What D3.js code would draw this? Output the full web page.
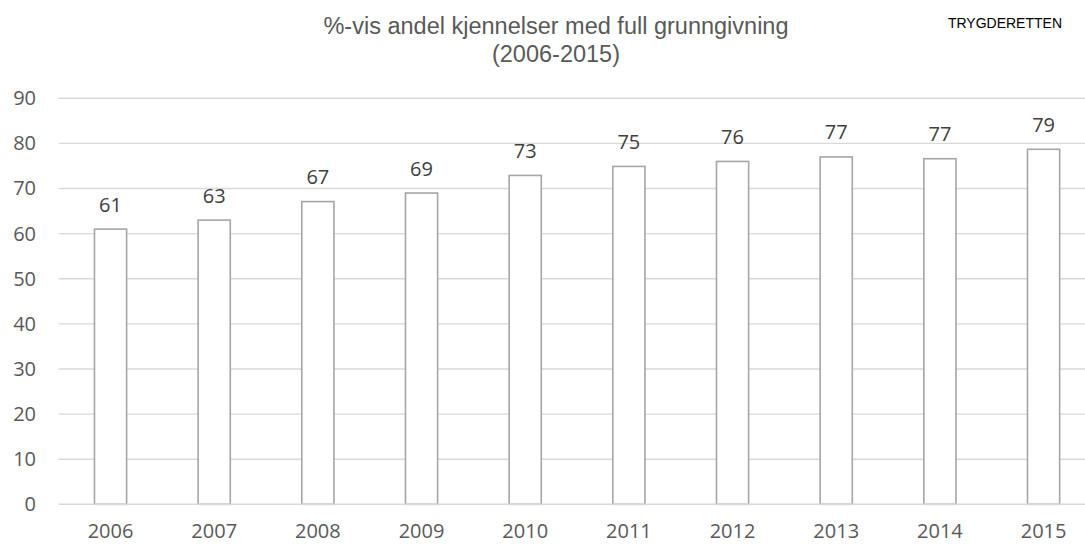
<!DOCTYPE html>
<html>
<head>
<meta charset="utf-8">
<script src="https://cdn.jsdelivr.net/npm/d3@7/dist/d3.min.js"></script>
<style>
  body { margin: 0; background: #fff; }
  svg { display: block; }
</style>
</head>
<body>
<div id="chart"></div>
<script>
// chart data
var years = ["2006", "2007", "2008", "2009", "2010", "2011", "2012", "2013", "2014", "2015"];
var shares = [61, 63, 67.1, 69, 72.9, 74.9, 76, 77, 76.6, 78.7];
var labels = ["61", "63", "67", "69", "73", "75", "76", "77", "77", "79"];
var yTicks = [0, 10, 20, 30, 40, 50, 60, 70, 80, 90];
var titleLines = ["%-vis andel kjennelser med full grunngivning", "(2006-2015)"];
var sourceText = "TRYGDERETTEN";

var width = 1085, height = 544;

var svg = d3.select("#chart")
    .append("svg")
    .attr("width", width)
    .attr("height", height);

var x = d3.scaleBand()
    .domain(years)
    .range([58.7, 1095.4])
    .paddingInner(0.69)
    .paddingOuter(0.345);

var y = d3.scaleLinear()
    .domain([0, 90])
    .range([504.3, 98.3]);

// gridlines (the 0 line goes on top of the bars)
svg.append("g")
    .selectAll("line")
    .data(yTicks.filter(function(d) { return d > 0; }))
    .enter().append("line")
    .attr("x1", 58.7)
    .attr("x2", width)
    .attr("y1", function(d) { return y(d); })
    .attr("y2", function(d) { return y(d); })
    .style("stroke", "#d9d9d9")
    .style("stroke-width", 1.4);

// y axis labels
var yAxis = d3.axisLeft(y).tickValues(yTicks).tickSize(0).tickPadding(0);
var gy = svg.append("g")
    .attr("transform", "translate(36,0)")
    .call(yAxis);
gy.select(".domain").remove();
gy.selectAll("text")
    .style("font-family", "'Open Sans', sans-serif")
    .style("font-size", "20px")
    .style("fill", "#595959");

// bars
svg.append("g")
    .selectAll("rect")
    .data(shares)
    .enter().append("rect")
    .attr("x", function(d, i) { return x(years[i]); })
    .attr("y", function(d) { return y(d); })
    .attr("width", x.bandwidth())
    .attr("height", function(d) { return y(0) - y(d); })
    .style("fill", "#ffffff")
    .style("stroke", "#a6a6a6")
    .style("stroke-width", 1.6);

// zero line
svg.append("line")
    .attr("x1", 58.7)
    .attr("x2", width)
    .attr("y1", y(0))
    .attr("y2", y(0))
    .style("stroke", "#d9d9d9")
    .style("stroke-width", 1.4);

// value labels
svg.append("g")
    .selectAll("text")
    .data(shares)
    .enter().append("text")
    .attr("x", function(d, i) { return x(years[i]) + x.bandwidth() / 2; })
    .attr("y", function(d) { return y(d) - 17.5; })
    .attr("text-anchor", "middle")
    .text(function(d, i) { return labels[i]; })
    .style("font-family", "'Open Sans', sans-serif")
    .style("font-size", "20px")
    .style("fill", "#404040");

// x axis labels
var xAxis = d3.axisBottom(x).tickSize(0).tickPadding(0);
var gx = svg.append("g")
    .attr("transform", "translate(0,524)")
    .call(xAxis);
gx.select(".domain").remove();
gx.selectAll("text")
    .style("font-family", "'Open Sans', sans-serif")
    .style("font-size", "20px")
    .style("fill", "#595959");

// title
svg.append("g")
    .selectAll("text")
    .data(titleLines)
    .enter().append("text")
    .attr("x", 556)
    .attr("y", function(d, i) { return 34 + i * 28; })
    .attr("text-anchor", "middle")
    .text(function(d) { return d; })
    .style("font-family", "'Liberation Sans', Arial, sans-serif")
    .style("font-size", "23.5px")
    .style("fill", "#595959");

svg.append("text")
    .attr("x", 1062)
    .attr("y", 28)
    .attr("text-anchor", "end")
    .text(sourceText)
    .style("font-family", "'Liberation Sans', Arial, sans-serif")
    .style("font-size", "14px")
    .style("fill", "#000");
</script>
</body>
</html>
